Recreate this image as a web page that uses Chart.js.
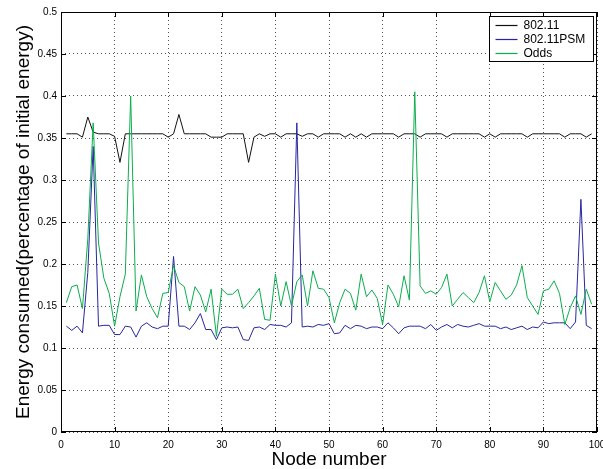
<!DOCTYPE html>
<html>
<head>
<meta charset="utf-8">
<script src="https://cdn.jsdelivr.net/npm/chart.js@4"></script>
<style>
  html, body { margin: 0; padding: 0; background: #fff; }
  #wrap { width: 603px; height: 469px; position: relative; }
</style>
</head>
<body>
<div id="wrap"><canvas id="myChart"></canvas></div>
<script>
// node ids 1..99 (x axis categories)
const nodes = Array.from({ length: 99 }, (_, i) => i + 1);

const energy80211 = [
  0.355, 0.355, 0.355, 0.351, 0.375, 0.357, 0.355, 0.355, 0.355, 0.352,
  0.321, 0.355, 0.355, 0.355, 0.355, 0.355, 0.355, 0.355, 0.355, 0.351,
  0.355, 0.378, 0.355, 0.355, 0.355, 0.355, 0.355, 0.351, 0.351, 0.351,
  0.355, 0.355, 0.355, 0.355, 0.321, 0.351, 0.355, 0.352, 0.355, 0.355,
  0.351, 0.355, 0.355, 0.355, 0.352, 0.355, 0.355, 0.351, 0.355, 0.355,
  0.355, 0.355, 0.351, 0.355, 0.351, 0.355, 0.351, 0.355, 0.355, 0.355,
  0.355, 0.355, 0.351, 0.355, 0.355, 0.355, 0.351, 0.355, 0.355, 0.355,
  0.355, 0.351, 0.355, 0.355, 0.355, 0.355, 0.355, 0.355, 0.351, 0.355,
  0.351, 0.355, 0.355, 0.355, 0.355, 0.355, 0.351, 0.355, 0.355, 0.355,
  0.355, 0.355, 0.355, 0.351, 0.355, 0.355, 0.355, 0.351, 0.355
];

const energyPSM = [
  0.126, 0.121, 0.126, 0.118, 0.190, 0.340, 0.126, 0.127, 0.127, 0.116,
  0.116, 0.126, 0.125, 0.113, 0.126, 0.130, 0.125, 0.123, 0.126, 0.126,
  0.209, 0.126, 0.126, 0.122, 0.130, 0.141, 0.122, 0.122, 0.110, 0.124,
  0.125, 0.124, 0.125, 0.110, 0.109, 0.124, 0.125, 0.122, 0.128, 0.127,
  0.127, 0.125, 0.130, 0.368, 0.125, 0.126, 0.125, 0.128, 0.127, 0.129,
  0.117, 0.118, 0.127, 0.123, 0.127, 0.126, 0.123, 0.125, 0.125, 0.123,
  0.130, 0.124, 0.117, 0.124, 0.126, 0.126, 0.126, 0.123, 0.128, 0.121,
  0.125, 0.128, 0.124, 0.128, 0.126, 0.125, 0.127, 0.129, 0.126, 0.126,
  0.126, 0.123, 0.125, 0.122, 0.124, 0.126, 0.122, 0.125, 0.124, 0.131,
  0.129, 0.130, 0.130, 0.130, 0.123, 0.131, 0.277, 0.127, 0.123
];

const energyOdds = [
  0.154, 0.173, 0.175, 0.147, 0.230, 0.368, 0.225, 0.183, 0.165, 0.126,
  0.161, 0.188, 0.400, 0.144, 0.187, 0.161, 0.147, 0.136, 0.165, 0.166,
  0.198, 0.178, 0.173, 0.144, 0.173, 0.163, 0.143, 0.170, 0.114, 0.170,
  0.164, 0.164, 0.170, 0.147, 0.154, 0.162, 0.171, 0.134, 0.133, 0.188,
  0.150, 0.179, 0.150, 0.179, 0.187, 0.150, 0.192, 0.171, 0.170, 0.160,
  0.130, 0.154, 0.170, 0.165, 0.145, 0.188, 0.161, 0.169, 0.159, 0.128,
  0.175, 0.164, 0.149, 0.186, 0.157, 0.405, 0.174, 0.165, 0.168, 0.164,
  0.172, 0.188, 0.150, 0.158, 0.166, 0.160, 0.154, 0.166, 0.186, 0.155,
  0.178, 0.168, 0.158, 0.163, 0.175, 0.198, 0.160, 0.150, 0.140, 0.168,
  0.170, 0.180, 0.165, 0.128, 0.148, 0.162, 0.140, 0.170, 0.152
];

const seriesNames = ["802.11", "802.11PSM", "Odds"];
const seriesColors = ["#111111", "#2626a0", "#0aae4c"];

function toPoints(values) {
  return values.map((v, i) => ({ x: nodes[i], y: v }));
}

// matlab style box, inward ticks and legend
const matlabBox = {
  id: "matlabBox",
  afterDraw(chart) {
    const ctx = chart.ctx;
    const a = chart.chartArea;
    const xs = chart.scales.x;
    const ys = chart.scales.y;
    ctx.save();
    ctx.strokeStyle = "#000";
    ctx.lineWidth = 1;
    ctx.strokeRect(Math.round(a.left) + 0.5, Math.round(a.top) + 0.5,
      Math.round(a.right - a.left) - 1, Math.round(a.bottom - a.top) - 1);
    ctx.beginPath();
    xs.ticks.forEach((t) => {
      const px = Math.round(xs.getPixelForValue(t.value)) + 0.5;
      ctx.moveTo(px, a.bottom); ctx.lineTo(px, a.bottom - 5);
      ctx.moveTo(px, a.top); ctx.lineTo(px, a.top + 5);
    });
    ys.ticks.forEach((t) => {
      const py = Math.round(ys.getPixelForValue(t.value)) + 0.5;
      ctx.moveTo(a.left, py); ctx.lineTo(a.left + 5, py);
      ctx.moveTo(a.right, py); ctx.lineTo(a.right - 5, py);
    });
    ctx.stroke();

    // legend
    const lx = 489.5, ly = 16.5, lw = 104, lh = 45;
    ctx.fillStyle = "#fff";
    ctx.fillRect(lx, ly, lw, lh);
    ctx.strokeStyle = "#000";
    ctx.strokeRect(lx, ly, lw, lh);
    ctx.font = "12px 'Liberation Sans', Arial, sans-serif";
    ctx.textBaseline = "middle";
    seriesNames.forEach((name, i) => {
      const y = Math.round(ly + 8 + i * 14) + 0.5;
      ctx.strokeStyle = seriesColors[i];
      ctx.lineWidth = 1.2;
      ctx.beginPath();
      ctx.moveTo(lx + 6, y);
      ctx.lineTo(lx + 28, y);
      ctx.stroke();
      ctx.fillStyle = "#000";
      ctx.fillText(name, lx + 34, y + 0.5);
    });
    ctx.restore();
  }
};

const ctx = document.getElementById("myChart").getContext("2d");
const myChart = new Chart(ctx, {
  type: "line",
  data: {
    datasets: [energy80211, energyPSM, energyOdds].map((vals, i) => ({
      label: seriesNames[i],
      data: toPoints(vals),
      borderColor: seriesColors[i],
      backgroundColor: seriesColors[i],
      borderWidth: 1,
      pointRadius: 0,
      tension: 0,
      order: 3 - i
    }))
  },
  options: {
    responsive: true,
    maintainAspectRatio: false,
    animation: false,
    devicePixelRatio: 1,
    layout: { padding: { left: 0, top: 12, right: 6, bottom: 0 } },
    plugins: { legend: { display: false }, tooltip: { enabled: false } },
    scales: {
      x: {
        type: "linear",
        min: 0,
        max: 100,
        ticks: {
          stepSize: 10,
          color: "#000",
          padding: 7,
          maxRotation: 0,
          font: { family: "'Liberation Sans', Arial, sans-serif", size: 10 }
        },
        grid: { color: "#555", lineWidth: 1, drawTicks: false },
        border: { display: false, dash: [1, 3] },
        title: {
          display: true,
          text: "Node number",
          color: "#000",
          padding: { top: 0, bottom: 0 },
          font: { family: "'Liberation Sans', Arial, sans-serif", size: 19, lineHeight: 1 }
        },
        afterFit(scale) {
          scale.height = 37;
          scale.paddingLeft = 0;
          scale.paddingRight = 0;
        }
      },
      y: {
        min: 0,
        max: 0.5,
        ticks: {
          stepSize: 0.05,
          color: "#000",
          padding: 4,
          font: { family: "'Liberation Sans', Arial, sans-serif", size: 10 },
          callback: (v) => String(+v.toFixed(2))
        },
        grid: { color: "#555", lineWidth: 1, drawTicks: false },
        border: { display: false, dash: [1, 3] },
        title: {
          display: true,
          text: "Energy consumed(percentage of initial energy)",
          color: "#000",
          padding: { top: 14, bottom: 0 },
          font: { family: "'Liberation Sans', Arial, sans-serif", size: 19, lineHeight: 1 }
        },
        afterFit(scale) {
          scale.width = 61;
          scale.paddingTop = 0;
          scale.paddingBottom = 0;
        }
      }
    }
  },
  plugins: [matlabBox]
});
</script>
</body>
</html>
